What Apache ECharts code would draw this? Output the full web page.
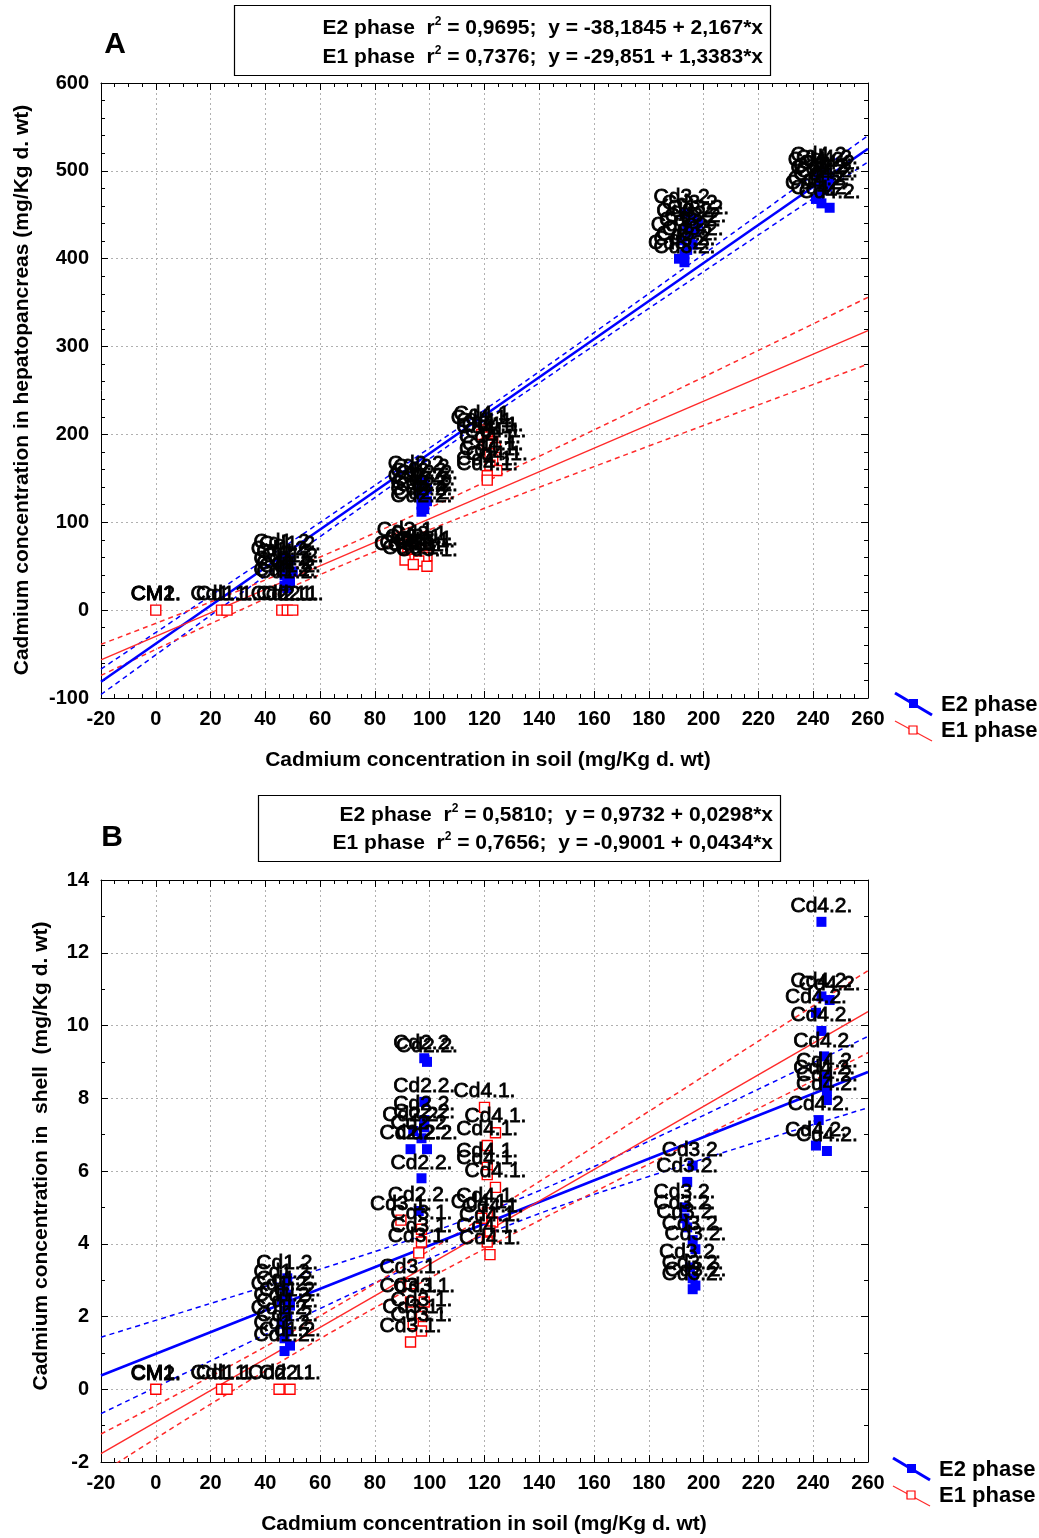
<!DOCTYPE html>
<html><head><meta charset="utf-8">
<script src="https://cdn.jsdelivr.net/npm/echarts@6/dist/echarts.min.js"></script>
<style>html,body{margin:0;padding:0;background:#fff}#c{width:1039px;height:1538px}</style>
</head><body><div id="c"></div>
<script>
// ---------- Panel A: hepatopancreas (mg/Kg d. wt) ----------
const hepE1_CM1 = [[0,0]];
const hepE2_CM2 = [[0,0]];
const hepE1_Cd11 = [[24,0],[26,0]];
const hepE1_Cd21 = [[46,0],[48,0],[50,0]];
const hepE1_Cd31 = [[92,72],[97,68],[95,65],[99,62],[98,60],[93,58],[96,56],[91,57],[94,52],[99,50]];
const hepE1_Cd41 = [[120,205],[119,200],[121,197],[123,192],[121,190],[124,185],[122,178],[123,171],[122,165],[124.5,159],[121,153],[121,148]];
const hepE2_Cd12 = [[47,60],[49,57],[46,52],[48,48],[50,44],[47,40],[48,36],[49,32],[47,28],[48,25]];
const hepE2_Cd22 = [[96,148],[98,145],[97,141],[99,138],[96,135],[98,131],[97,127],[99,124],[97,120],[98,115],[97,112]];
const hepE2_Cd32 = [[193,452],[196,446],[198,440],[194,436],[197,431],[195,426],[192,421],[196,416],[194,410],[193,405],[191,400],[193,396]];
const hepE2_Cd42 = [[243,500],[245,497],[242,494],[246,491],[244,488],[243,485],[245,482],[244,478],[242,473],[241,468],[243,463],[246,458]];

// ---------- Panel B: shell (mg/Kg d. wt) ----------
const shE1_CM1 = [[0,0]];
const shE2_CM2 = [[0,0]];
const shE1_Cd11 = [[24,0],[26,0]];
const shE1_Cd21 = [[45,0],[49,0]];
const shE1_Cd31 = [[89.5,4.65],[97,4.4],[97,4.05],[96,3.75],[93,2.9],[93,2.4],[98,2.4],[97,2.0],[94,1.8],[97,1.6],[93,1.3]];
const shE1_Cd41 = [[120,7.75],[124,7.05],[121,6.7],[121,6.1],[121,5.9],[124,5.55],[121,4.85],[119,4.7],[123,4.6],[122,4.35],[121,4.05],[122,3.7]];
const shE2_Cd12 = [[48,3.05],[47,2.8],[48,2.6],[46,2.45],[49,2.3],[47,2.15],[48,2.0],[46,1.8],[48,1.6],[47,1.4],[49,1.2],[47,1.05]];
const shE2_Cd22 = [[98,9.1],[99,9.0],[98,7.9],[98,7.4],[98,7.2],[94,7.1],[97,6.9],[93,6.6],[99,6.6],[97,5.8],[96,4.9]];
const shE2_Cd32 = [[196,6.15],[194,5.7],[193,5.0],[193,4.7],[194,4.45],[196,4.1],[197,3.85],[195,3.35],[196,3.05],[197,2.85],[196,2.75]];
const shE2_Cd42 = [[243,12.85],[243,10.8],[246,10.7],[241,10.35],[243,9.85],[244,9.15],[245,8.6],[244,8.4],[245,8.2],[245,7.95],[242,7.4],[241,6.7],[245,6.55]];

// ---------- Fitted lines and 95% bands ----------
const fitX = [-20, 260];
const hepFitE2 = [-81.5, 525.2];
const hepFitE1 = [-56.6, 318.1];
const shFitE2 = [0.377, 8.72];
const shFitE1 = [-1.768, 10.38];
const bandX = [-20, 20, 60, 100, 140, 180, 220, 260];
const hepE2Upper = [-67, 16.3, 99.9, 184.7, 271.6, 360.4, 450.2, 540.2];
const hepE2Lower = [-96, -5.9, 83.7, 172.3, 258.8, 343.4, 427.0, 510.2];
const hepE1Upper = [-38.9, 9.3, 60.5, 116.4, 175.2, 235.2, 295.6, 356.1];
const hepE1Lower = [-74.3, -15.5, 40.5, 91.6, 139.8, 186.8, 233.6, 280.1];
const shE2Upper = [1.43, 2.36, 3.30, 4.30, 5.46, 6.82, 8.25, 9.70];
const shE2Lower = [-0.67, 0.78, 2.22, 3.60, 4.83, 5.85, 6.81, 7.74];
const shE1Upper = [-1.23, 0.35, 2.02, 3.82, 5.71, 7.64, 9.57, 11.51];
const shE1Lower = [-2.31, -0.41, 1.39, 3.06, 4.64, 6.19, 7.72, 9.25];

// ---------- Texts ----------
const xTitle = 'Cadmium concentration in soil (mg/Kg d. wt)';
const yTitleA = 'Cadmium concentration in hepatopancreas (mg/Kg d. wt)';
const yTitleB = 'Cadmium concentration in  shell  (mg/Kg d. wt)';
const eqA = [['E2 phase', '0,9695', '-38,1845 + 2,167*x'], ['E1 phase', '0,7376', '-29,851 + 1,3383*x']];
const eqB = [['E2 phase', '0,5810', '0,9732 + 0,0298*x'], ['E1 phase', '0,7656', '-0,9001 + 0,0434*x']];
const legendNames = ['E2 phase', 'E1 phase'];

const FONT = '"Liberation Sans", Arial, sans-serif';
const BLUE = '#0000ff', RED = '#ff2a2a';

function pts(arr, name){ return arr.map(p => ({value: p, name: name})); }
function pairs(xs, ys){ return xs.map((x,i) => [x, ys[i]]); }

const labelStyle = {show:true, position:'top', distance:0, formatter:'{b}', color:'#000',
  textBorderColor:'#000', textBorderWidth:0.8, fontFamily:FONT, fontSize:21};

function e2Series(xi, yi, groups){
  return {type:'scatter', xAxisIndex:xi, yAxisIndex:yi, symbol:'rect', symbolSize:10,
    itemStyle:{color:BLUE, opacity:1}, label:labelStyle, z:5, data:[].concat(...groups)};
}
function e1Series(xi, yi, groups){
  return {type:'scatter', xAxisIndex:xi, yAxisIndex:yi, symbol:'rect', symbolSize:10,
    itemStyle:{color:'#fff', borderColor:'#ff0000', borderWidth:1.4, opacity:1}, label:labelStyle, z:6, data:[].concat(...groups)};
}
function lineS(xi, yi, data, color, width, dashed){
  return {type:'line', xAxisIndex:xi, yAxisIndex:yi, data:data, showSymbol:false, symbol:'none',
    smooth: dashed ? 0.35 : false, clip:true, silent:true, z:3,
    lineStyle:{color:color, width:width, type: dashed ? [5,4] : 'solid'}};
}

function xAxisPair(gi){
  const base = {gridIndex:gi, type:'value', min:-20, max:260, interval:20};
  return [
    Object.assign({}, base, {position:'bottom',
      axisLine:{show:true, onZero:false, lineStyle:{color:'#000', width:1}},
      axisTick:{show:true, inside:true, length:7, lineStyle:{color:'#000'}},
      minorTick:{show:true, splitNumber:4, length:4, lineStyle:{color:'#000'}},
      axisLabel:{show:true, margin:11, color:'#000', fontFamily:FONT, fontWeight:'bold', fontSize:20},
      splitLine:{show:true, lineStyle:{color:'#b0b0b0', type:[2,3], width:1}}}),
    Object.assign({}, base, {position:'top',
      axisLine:{show:true, onZero:false, lineStyle:{color:'#000', width:1}},
      axisTick:{show:true, inside:true, length:7, lineStyle:{color:'#000'}},
      minorTick:{show:true, splitNumber:4, length:4, lineStyle:{color:'#000'}},
      axisLabel:{show:false}, splitLine:{show:false}})
  ];
}
function yAxisPair(gi, min, max, interval, minorSplit){
  const base = {gridIndex:gi, type:'value', min:min, max:max, interval:interval};
  return [
    Object.assign({}, base, {position:'left',
      axisLine:{show:true, onZero:false, lineStyle:{color:'#000', width:1}},
      axisTick:{show:true, inside:true, length:7, lineStyle:{color:'#000'}},
      minorTick:{show:true, splitNumber:minorSplit, length:4, lineStyle:{color:'#000'}},
      axisLabel:{show:true, margin:12, color:'#000', fontFamily:FONT, fontWeight:'bold', fontSize:20},
      splitLine:{show:true, lineStyle:{color:'#b0b0b0', type:[2,3], width:1}}}),
    Object.assign({}, base, {position:'right',
      axisLine:{show:true, onZero:false, lineStyle:{color:'#000', width:1}},
      axisTick:{show:true, inside:true, length:7, lineStyle:{color:'#000'}},
      minorTick:{show:true, splitNumber:minorSplit, length:4, lineStyle:{color:'#000'}},
      axisLabel:{show:false}, splitLine:{show:false}})
  ];
}

function eqText(row, x, y){
  return {type:'text', x:x, y:y, style:{
    text:'{n|' + row[0] + '  r}{s|2}{n| = ' + row[1] + ';  y = ' + row[2] + '}',
    align:'right', verticalAlign:'middle',
    rich:{ n:{fontFamily:FONT, fontWeight:'bold', fontSize:21, lineHeight:24, fill:'#000'},
           s:{fontFamily:FONT, fontWeight:'bold', fontSize:12, lineHeight:24, verticalAlign:'top', fill:'#000'} }
  }};
}
function legendGroup(x0, y0){
  return [
    {type:'line', shape:{x1:x0, y1:y0, x2:x0+37, y2:y0+22}, style:{stroke:BLUE, lineWidth:3}},
    {type:'rect', shape:{x:x0+14, y:y0+6, width:9, height:9}, style:{fill:BLUE}},
    {type:'line', shape:{x1:x0, y1:y0+28, x2:x0+37, y2:y0+48}, style:{stroke:RED, lineWidth:1.2}},
    {type:'rect', shape:{x:x0+14, y:y0+33, width:8, height:8}, style:{fill:'#fff', stroke:'#ff0000', lineWidth:1.2}},
    {type:'text', x:x0+46, y:y0+12, style:{text:legendNames[0], fontFamily:FONT, fontWeight:'bold', fontSize:22, fill:'#000', verticalAlign:'middle'}},
    {type:'text', x:x0+46, y:y0+38, style:{text:legendNames[1], fontFamily:FONT, fontWeight:'bold', fontSize:22, fill:'#000', verticalAlign:'middle'}}
  ];
}
function titleText(t, x, y, rot, size){
  return {type:'text', x:x, y:y, rotation:rot, style:{text:t, fontFamily:FONT, fontWeight:'bold', fontSize:size, fill:'#000', align:'center', verticalAlign:'middle'}};
}

const chart = echarts.init(document.getElementById('c'), null, {renderer:'canvas'});
chart.setOption({
  backgroundColor:'#fff',
  animation:false,
  grid:[{left:101, top:83, width:767, height:615}, {left:101, top:880, width:767, height:582}],
  xAxis:[...xAxisPair(0), ...xAxisPair(1)],
  yAxis:[...yAxisPair(0, -100, 600, 100, 5), ...yAxisPair(1, -2, 14, 2, 2)],
  series:[
    lineS(0,0,pairs(bandX,hepE2Upper),BLUE,1.5,true),
    lineS(0,0,pairs(bandX,hepE2Lower),BLUE,1.5,true),
    lineS(0,0,pairs(bandX,hepE1Upper),RED,1.5,true),
    lineS(0,0,pairs(bandX,hepE1Lower),RED,1.5,true),
    lineS(0,0,pairs(fitX,hepFitE2),BLUE,2.6,false),
    lineS(0,0,pairs(fitX,hepFitE1),RED,1.4,false),
    e2Series(0,0,[pts(hepE2_CM2,'CM2.'), pts(hepE2_Cd12,'Cd1.2.'), pts(hepE2_Cd22,'Cd2.2.'), pts(hepE2_Cd32,'Cd3.2.'), pts(hepE2_Cd42,'Cd4.2.')]),
    e1Series(0,0,[pts(hepE1_CM1,'CM1.'), pts(hepE1_Cd11,'Cd1.1.'), pts(hepE1_Cd21,'Cd2.1.'), pts(hepE1_Cd31,'Cd3.1.'), pts(hepE1_Cd41,'Cd4.1.')]),
    lineS(2,2,pairs(bandX,shE2Upper),BLUE,1.5,true),
    lineS(2,2,pairs(bandX,shE2Lower),BLUE,1.5,true),
    lineS(2,2,pairs(bandX,shE1Upper),RED,1.5,true),
    lineS(2,2,pairs(bandX,shE1Lower),RED,1.5,true),
    lineS(2,2,pairs(fitX,shFitE2),BLUE,2.6,false),
    lineS(2,2,pairs(fitX,shFitE1),RED,1.4,false),
    e2Series(2,2,[pts(shE2_CM2,'CM2.'), pts(shE2_Cd12,'Cd1.2.'), pts(shE2_Cd22,'Cd2.2.'), pts(shE2_Cd32,'Cd3.2.'), pts(shE2_Cd42,'Cd4.2.')]),
    e1Series(2,2,[pts(shE1_CM1,'CM1.'), pts(shE1_Cd11,'Cd1.1.'), pts(shE1_Cd21,'Cd2.1.'), pts(shE1_Cd31,'Cd3.1.'), pts(shE1_Cd41,'Cd4.1.')])
  ],
  graphic:[
    {type:'rect', shape:{x:234.5, y:5.5, width:536, height:70}, style:{fill:'#fff', stroke:'#000', lineWidth:1.2}},
    eqText(eqA[0], 763, 28), eqText(eqA[1], 763, 57),
    {type:'rect', shape:{x:258.5, y:795.5, width:522, height:66}, style:{fill:'#fff', stroke:'#000', lineWidth:1.2}},
    eqText(eqB[0], 773, 815), eqText(eqB[1], 773, 843),
    titleText('A', 115, 45, 0, 30), titleText('B', 112, 838, 0, 30),
    titleText(xTitle, 488, 760, 0, 21), titleText(xTitle, 484, 1524, 0, 21),
    titleText(yTitleA, 22, 390, Math.PI/2, 21), titleText(yTitleB, 41, 1156, Math.PI/2, 21),
    ...legendGroup(895, 693), ...legendGroup(893, 1458)
  ]
});
</script></body></html>
